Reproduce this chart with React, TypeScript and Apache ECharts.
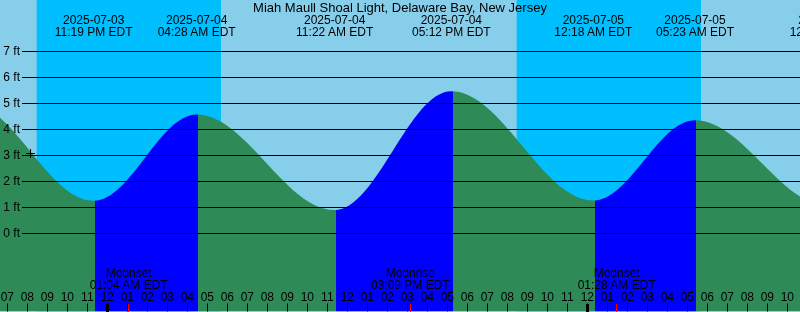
import React, { useEffect, useRef } from "react";
import * as echarts from "echarts";

const TITLE = "Miah Maull Shoal Light, Delaware Bay, New Jersey";
const VIEW_START = "2025-07-03 18:38";
const VIEW_END = "2025-07-05 10:38";

// High / low tide extremes (EDT)
const tideTimes = [
  "2025-07-03 10:50",
  "2025-07-03 17:00",
  "2025-07-03 23:19",
  "2025-07-04 04:28",
  "2025-07-04 11:22",
  "2025-07-04 17:12",
  "2025-07-05 00:18",
  "2025-07-05 05:23",
  "2025-07-05 12:05",
  "2025-07-05 18:05",
];
const tideFeet = [0.75, 5.05, 1.26, 4.58, 0.9, 5.47, 1.27, 4.36, 1.05, 5.3];
const tideLabeled = [false, false, true, true, true, true, true, true, true, false];

// Night (sunset -> sunrise)
const nightStart = ["2025-07-03 20:28", "2025-07-04 20:28"];
const nightEnd = ["2025-07-04 05:41", "2025-07-05 05:41"];

// Moon events
const moonTimes = ["2025-07-04 01:04", "2025-07-04 15:09", "2025-07-05 01:28"];
const moonNames = ["Moonset", "Moonrise", "Moonset"];

const midnights = ["2025-07-04 00:00", "2025-07-05 00:00"];

const markerTimes = ["2025-07-03 20:08"];
const markerFeet = [3.1];

const ftMin = 0;
const ftMax = 7;

const SKY = "#87CEEB";
const NIGHT = "#00BFFF";
const FALLING = "#2E8B57";
const RISING = "#0000FF";
const FONT = '"Liberation Sans", Arial, sans-serif';
const FILL_SHIFT = 0.07;

const toH = (s: string) => {
  const [d, t] = s.split(" ");
  const day = Number(d.slice(8, 10)) - 4;
  const [hh, mm] = t.split(":").map(Number);
  return day * 24 + hh + mm / 60;
};
const pad = (n: number) => (n < 10 ? "0" + n : String(n));
const clock = (s: string) => {
  const [, t] = s.split(" ");
  const [hh, mm] = t.split(":").map(Number);
  const h12 = hh % 12 === 0 ? 12 : hh % 12;
  return `${pad(h12)}:${pad(mm)} ${hh < 12 ? "AM" : "PM"} EDT`;
};

export default function App() {
  const ref = useRef<HTMLDivElement>(null);
  useEffect(() => {
    if (!ref.current) return;
    const chart = echarts.init(ref.current, undefined, { renderer: "svg" });

    const tideData = tideTimes.map((t, i) => [toH(t), tideFeet[i]]);
    const pieces: any[] = [];
    pieces.push({ lt: toH(tideTimes[0]) + FILL_SHIFT, color: FALLING });
    for (let i = 0; i < tideTimes.length - 1; i++) {
      pieces.push({
        gte: toH(tideTimes[i]) + FILL_SHIFT,
        lt: toH(tideTimes[i + 1]) + FILL_SHIFT,
        color: tideFeet[i + 1] > tideFeet[i] ? RISING : FALLING,
      });
    }
    pieces.push({ gte: toH(tideTimes[tideTimes.length - 1]) + FILL_SHIFT, color: RISING });

    const tideLabelData = tideTimes
      .map((t, i) => ({ t, i }))
      .filter((o) => tideLabeled[o.i])
      .map((o) => ({ value: [toH(o.t)], text: o.t.split(" ")[0] + "\n" + clock(o.t) }));

    const moonLabelData = moonTimes.map((t, i) => ({ value: [toH(t)], text: moonNames[i] + "\n" + clock(t) }));

    const option: any = {
      animation: false,
      textStyle: { fontFamily: FONT },
      title: {
        text: TITLE,
        left: "center",
        top: 1,
        textStyle: { fontSize: 13, fontWeight: "normal", color: "#000", fontFamily: FONT, lineHeight: 13 },
        padding: 0,
      },
      grid: [
        {
          left: 0,
          top: -0.5,
          width: 800,
          height: 312,
          show: true,
          backgroundColor: SKY,
          borderWidth: 0,
          containLabel: false,
          outerBoundsMode: "none",
        },
        { left: 22, top: 51, right: 0, height: 182, show: false, containLabel: false, outerBoundsMode: "none" },
      ],
      xAxis: [
        {
          type: "value",
          gridIndex: 0,
          min: toH(VIEW_START),
          max: toH(VIEW_END),
          splitNumber: 40,
          minInterval: 1,
          maxInterval: 1,
          z: 4,
          axisLine: { show: false, onZero: false },
          splitLine: { show: false },
          axisTick: { show: true, inside: true, length: 8, lineStyle: { color: "#000", width: 1 } },
          axisLabel: {
            inside: true,
            margin: 9,
            showMinLabel: false,
            showMaxLabel: false,
            fontSize: 12,
            color: "#000",
            fontFamily: FONT,
            formatter: (v: number) => {
              const h = ((Math.round(v) % 12) + 12) % 12;
              return pad(h === 0 ? 12 : h);
            },
          },
        },
        { type: "value", gridIndex: 1, show: false, min: 0, max: 1, axisLine: { onZero: false } },
      ],
      yAxis: [
        { type: "value", gridIndex: 0, min: -3, max: 9, show: false },
        {
          type: "value",
          gridIndex: 1,
          min: ftMin,
          max: ftMax,
          interval: 1,
          z: 3,
          axisLine: { show: false, onZero: false },
          axisTick: { show: false },
          splitLine: { show: true, lineStyle: { color: "#000", width: 1 } },
          axisLabel: {
            margin: 2,
            fontSize: 12,
            color: "#000",
            fontFamily: FONT,
            padding: [0, 0, 2, 0],
            formatter: "{value} ft",
          },
        },
      ],
      visualMap: {
        show: false,
        type: "piecewise",
        seriesIndex: 1,
        dimension: 0,
        pieces,
      },
      series: [
        {
          type: "custom",
          xAxisIndex: 0,
          yAxisIndex: 0,
          z: 1,
          silent: true,
          clip: true,
          data: nightStart.map((s, i) => [toH(s), toH(nightEnd[i])]),
          renderItem: (params: any, api: any) => {
            const x0 = api.coord([api.value(0), 0])[0];
            const x1 = api.coord([api.value(1), 0])[0];
            const cs = params.coordSys;
            return {
              type: "rect",
              shape: { x: x0, y: cs.y, width: x1 - x0, height: cs.height },
              style: { fill: NIGHT },
            };
          },
        },
        {
          type: "line",
          xAxisIndex: 0,
          yAxisIndex: 0,
          z: 2,
          silent: true,
          data: tideData,
          smooth: 0.36,
          smoothMonotone: "x",
          symbol: "none",
          lineStyle: { width: 0 },
          areaStyle: { opacity: 1, origin: "start" },
        },
        {
          type: "custom",
          xAxisIndex: 0,
          yAxisIndex: 0,
          z: 5,
          silent: true,
          data: tideLabelData,
          renderItem: (params: any, api: any) => {
            const x = api.coord([api.value(0), 0])[0];
            const item = tideLabelData[params.dataIndex];
            return {
              type: "text",
              x,
              y: 25.5,
              style: {
                text: item.text,
                align: "center",
                verticalAlign: "middle",
                font: `12px ${FONT}`,
                lineHeight: 12,
                fill: "#000",
              },
            };
          },
        },
        {
          type: "custom",
          xAxisIndex: 0,
          yAxisIndex: 0,
          z: 5,
          silent: true,
          data: moonLabelData,
          renderItem: (params: any, api: any) => {
            const x = api.coord([api.value(0), 0])[0];
            const item = moonLabelData[params.dataIndex];
            return {
              type: "text",
              x,
              y: 279,
              style: {
                text: item.text,
                align: "center",
                verticalAlign: "middle",
                font: `12px ${FONT}`,
                lineHeight: 12,
                fill: "#000",
              },
            };
          },
        },
        {
          type: "custom",
          xAxisIndex: 0,
          yAxisIndex: 0,
          z: 6,
          silent: true,
          data: moonTimes.map((t) => [toH(t)]),
          renderItem: (params: any, api: any) => {
            const x = api.coord([api.value(0), 0])[0];
            const cs = params.coordSys;
            const bottom = Math.round(cs.y + cs.height);
            return {
              type: "rect",
              shape: { x: Math.floor(x), y: bottom - 8, width: 1, height: 8 },
              style: { fill: "#FF0000" },
            };
          },
        },
        {
          type: "custom",
          xAxisIndex: 0,
          yAxisIndex: 0,
          z: 6,
          silent: true,
          data: midnights.map((t) => [toH(t)]),
          renderItem: (params: any, api: any) => {
            const x = api.coord([api.value(0), 0])[0];
            const cs = params.coordSys;
            const bottom = Math.round(cs.y + cs.height);
            return {
              type: "rect",
              shape: { x: Math.round(x - 1.5), y: bottom - 8, width: 3, height: 8 },
              style: { fill: "#000" },
            };
          },
        },
        {
          type: "custom",
          xAxisIndex: 0,
          yAxisIndex: 0,
          z: 6,
          silent: true,
          data: markerTimes.map((t, i) => [toH(t), markerFeet[i]]),
          renderItem: (params: any, api: any) => {
            const p = api.coord([api.value(0), api.value(1)]);
            const cx = Math.round(p[0]) + 0.5;
            const cy = Math.round(p[1]) + 0.5;
            return {
              type: "group",
              children: [
                { type: "line", shape: { x1: cx - 4.5, y1: cy, x2: cx + 4.5, y2: cy }, style: { stroke: "#000", lineWidth: 1 } },
                { type: "line", shape: { x1: cx, y1: cy - 4.5, x2: cx, y2: cy + 4.5 }, style: { stroke: "#000", lineWidth: 1 } },
              ],
            };
          },
        },
      ],
    };
    chart.setOption(option);
    return () => chart.dispose();
  }, []);
  return (
    <div
      ref={ref}
      style={{ position: "fixed", left: 0, top: 0, width: 800, height: 312 }}
    />
  );
}
